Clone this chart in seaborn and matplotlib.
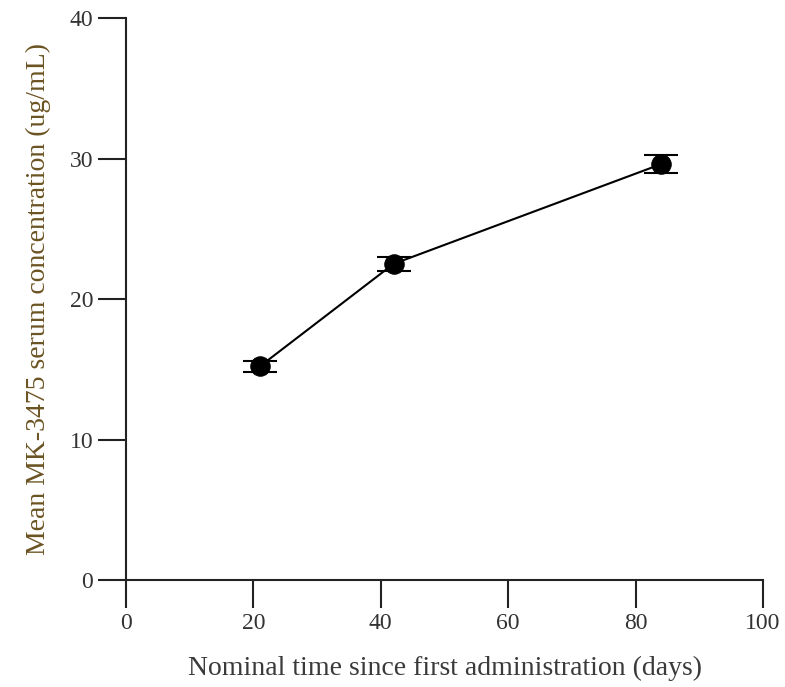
import matplotlib
matplotlib.use("Agg")
import matplotlib.pyplot as plt
import seaborn as sns
import pandas as pd

days = [21, 42, 84]
mean_conc = [15.2, 22.5, 29.6]
sd_err = [0.4, 0.5, 0.65]
xticks = [0, 20, 40, 60, 80, 100]
yticks = [0, 10, 20, 30, 40]

sns.set_theme(style="ticks")
plt.rcParams['font.family'] = ['Liberation Serif', 'DejaVu Serif']

df = pd.DataFrame({"day": days, "conc": mean_conc})

fig = plt.figure(figsize=(7.85, 6.87), dpi=100)
ax = fig.add_axes([0.1605, 0.1557, 0.972 - 0.1605, 0.9738 - 0.1557])

ax.errorbar(days, mean_conc, yerr=sd_err, fmt="none", ecolor="black",
            elinewidth=1.5, capsize=12, capthick=1.5, zorder=2)
sns.lineplot(data=df, x="day", y="conc", ax=ax, color="black", linewidth=1.5,
             marker="o", markersize=14, markerfacecolor="black",
             markeredgecolor="black", zorder=3)

ax.set_xlim(0, 100)
ax.set_ylim(0, 40)
ax.set_xticks(xticks)
ax.set_yticks(yticks)
ax.tick_params(axis="both", direction="out", length=20, width=1.5,
               color="#222222", labelsize=17, pad=3.5, labelcolor="#333333")
for side in ["top", "right"]:
    ax.spines[side].set_visible(False)
for side in ["left", "bottom"]:
    ax.spines[side].set_linewidth(1.5)
    ax.spines[side].set_color("#222222")

ax.set_xlabel("Nominal time since first administration (days)", fontsize=20,
              color="#3a3a3a", labelpad=16)
ax.set_ylabel("Mean MK-3475 serum concentration (ug/mL)", fontsize=20,
              color="#6b5322", labelpad=16)
ax.yaxis.set_label_coords(-0.118, 0.5)

fig.savefig("out.png", dpi=100)
